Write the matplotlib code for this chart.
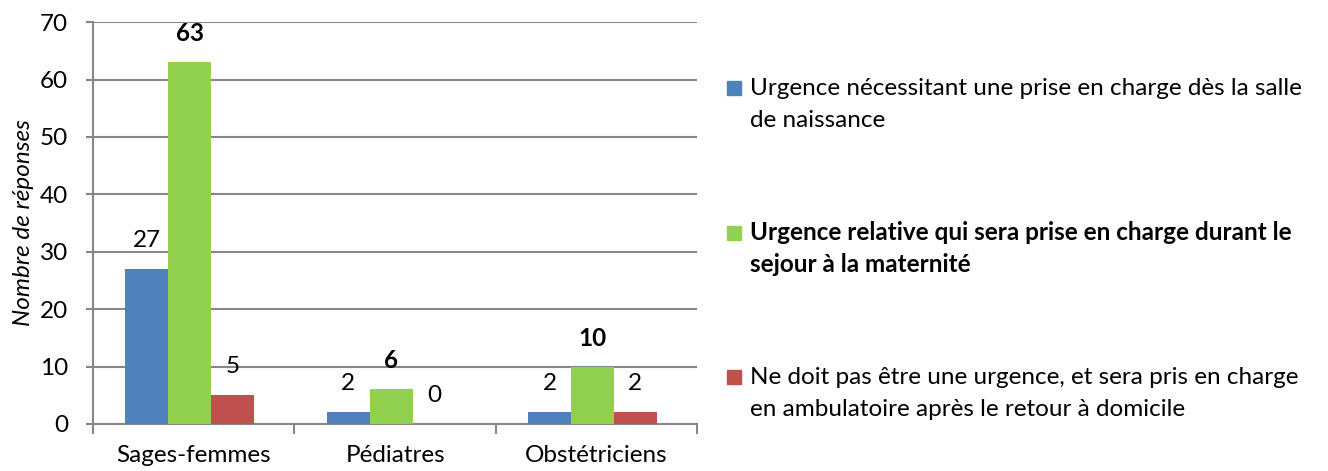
import matplotlib.pyplot as plt
from matplotlib.patches import Rectangle
import numpy as np

categories = ["Sages-femmes", "Pédiatres", "Obstétriciens"]
series_labels = [
    "Urgence nécessitant une prise en charge dès la salle\nde naissance",
    "Urgence relative qui sera prise en charge durant le\nsejour à la maternité",
    "Ne doit pas être une urgence, et sera pris en charge\nen ambulatoire après le retour à domicile",
]
urgence_salle = [27, 2, 2]
urgence_relative = [63, 6, 10]
pas_urgence = [5, 0, 2]

COLORS = ["#4F81BD", "#92D050", "#C0504D"]
GRID = "#878787"
FS = 17.5
W, H = 1328, 471

plt.rcParams["font.family"] = ["Lato", "DejaVu Sans"]

fig = plt.figure(figsize=(W / 100, H / 100), dpi=100)
ax = fig.add_axes([0.070, 0.100, 0.455, 0.853])

x = np.arange(len(categories))
width = 0.213
values = [urgence_salle, urgence_relative, pas_urgence]
for i, (vals, color) in enumerate(zip(values, COLORS)):
    pos = x + (i - 1) * width - 0.02
    ax.bar(pos, vals, width=width, color=color, zorder=3)
    for p, v in zip(pos, vals):
        ax.annotate(str(v), (p, v), xytext=(0, 20.5), textcoords="offset points",
                    ha="center", va="center", fontsize=FS,
                    fontweight="bold" if i == 1 else "normal", zorder=4)

ax.set_xlim(-0.5, 2.5)
ax.set_ylim(0, 70)
ax.set_yticks(range(0, 71, 10))
ax.yaxis.grid(True, color=GRID, linewidth=1.5, zorder=0)
ax.set_xticks(x)
ax.set_xticklabels(categories, fontsize=FS)
ax.set_xticks([-0.5, 0.5, 1.5, 2.5], minor=True)
ax.tick_params(axis="x", which="major", length=0, pad=15)
ax.tick_params(axis="x", which="minor", length=7, width=1.5, color=GRID)
ax.tick_params(axis="y", length=5, width=1.5, color=GRID, labelsize=FS, pad=13)
for side in ["top", "right"]:
    ax.spines[side].set_visible(False)
for side in ["left", "bottom"]:
    ax.spines[side].set_color(GRID)
    ax.spines[side].set_linewidth(1.5)
ax.set_ylabel("Nombre de réponses", fontsize=FS, style="italic", labelpad=4)

# legend drawn by hand: square level with the first line of each entry
baselines = [95, 240, 384]
for i, (label, color, base) in enumerate(zip(series_labels, COLORS, baselines)):
    fig.add_artist(Rectangle((727 / W, 1 - (base - 0.5) / H), 14 / W, 14 / H,
                             transform=fig.transFigure, color=color))
    for j, line in enumerate(label.split("\n")):
        fig.text(750 / W, 1 - (base + 32 * j) / H, line, fontsize=FS,
                 ha="left", va="baseline",
                 fontweight="bold" if i == 1 else "normal")

fig.savefig("out.png", dpi=100)
